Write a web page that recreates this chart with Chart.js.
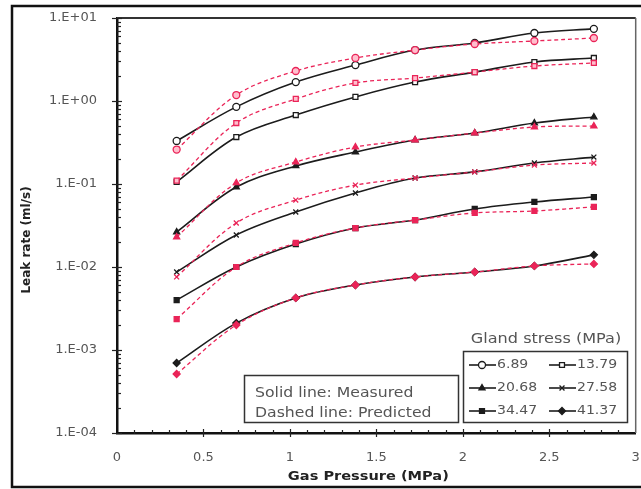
<!DOCTYPE html>
<html><head><meta charset="utf-8">
<script src="https://cdn.jsdelivr.net/npm/chart.js@4/dist/chart.umd.min.js"></script>
<style>html,body{margin:0;padding:0;background:#fff;overflow:hidden}canvas{display:block}</style>
</head><body><canvas id="c" width="641" height="489" style="width:641px;height:489px"></canvas>
<script>
// ---- data ----
const pressure = [0.345, 0.69, 1.034, 1.379, 1.724, 2.069, 2.414, 2.758];
const glandStress = ['6.89', '13.79', '20.68', '27.58', '34.47', '41.37'];
const meas689  = [0.33, 0.85, 1.69, 2.71, 4.11, 5.0, 6.6, 7.4];
const pred689  = [0.26, 1.18, 2.30, 3.30, 4.11, 4.86, 5.28, 5.74];
const meas1379 = [0.106, 0.368, 0.678, 1.12, 1.69, 2.23, 2.95, 3.30];
const pred1379 = [0.11, 0.543, 1.06, 1.65, 1.89, 2.23, 2.64, 2.87];
const meas2068 = [0.0264, 0.092, 0.165, 0.243, 0.339, 0.411, 0.543, 0.641];
const pred2068 = [0.023, 0.103, 0.184, 0.279, 0.339, 0.411, 0.486, 0.50];
const meas2758 = [0.0087, 0.0243, 0.046, 0.078, 0.118, 0.140, 0.179, 0.211];
const pred2758 = [0.0076, 0.0339, 0.064, 0.097, 0.118, 0.140, 0.169, 0.179];
const meas3447 = [0.0040, 0.010, 0.0189, 0.0295, 0.0368, 0.050, 0.0607, 0.0697];
const pred3447 = [0.00236, 0.010, 0.0195, 0.0295, 0.0368, 0.0448, 0.0473, 0.0529];
const meas4137 = [0.000697, 0.00211, 0.00424, 0.00607, 0.00758, 0.0087, 0.0103, 0.0140];
const pred4137 = [0.000514, 0.0020, 0.00424, 0.00607, 0.00758, 0.0087, 0.0103, 0.0109];
const measured  = [meas689, meas1379, meas2068, meas2758, meas3447, meas4137];
const predicted = [pred689, pred1379, pred2068, pred2758, pred3447, pred4137];
const yTickValues = [1e-4, 1e-3, 1e-2, 1e-1, 1, 10];
const yTickLabels = ['1.E-04', '1.E-03', '1.E-02', '1.E-01', '1.E+00', '1.E+01'];
const xTickValues = [0, 0.5, 1, 1.5, 2, 2.5, 3];
const xTickLabels = ['0', '0.5', '1', '1.5', '2', '2.5', '3'];
const xTitle = 'Gas Pressure (MPa)';
const yTitle = 'Leak rate (ml/s)';
const legendTitle = 'Gland stress (MPa)';
const noteLines = ['Solid line: Measured', 'Dashed line: Predicted'];

// ---- styles ----
const BLACK = '#1c1c1c';
const RED = 'rgb(234,36,88)';
const TEXT = '#555';
const shapes = ['circle', 'rect', 'triangle', 'crossRot', 'rect', 'rectRot'];
const measFill = ['#fff', '#fff', BLACK, BLACK, BLACK, BLACK];
const predFill = ['rgba(255,190,205,1)', 'rgba(255,190,205,1)', RED, RED, RED, RED];
const FONT = 'DejaVu Sans, Verdana, sans-serif';

const pts = arr => arr.map((v, i) => ({x: pressure[i], y: v}));
const datasets = [];
measured.forEach((arr, i) => datasets.push({
  label: glandStress[i], data: pts(arr), showLine: true, tension: 0.35, order: 1,
  borderColor: BLACK, borderWidth: 1.6,
  pointStyle: shapes[i], pointRadius: 3.5, pointBorderWidth: 1.3,
  pointBorderColor: BLACK, pointBackgroundColor: measFill[i]
}));
predicted.forEach((arr, i) => datasets.push({
  label: glandStress[i] + ' predicted', data: pts(arr), showLine: true, tension: 0.35, order: 0,
  borderColor: RED, borderWidth: 1.3, borderDash: [4, 3],
  pointStyle: shapes[i], pointRadius: 3.5, pointBorderWidth: 1.3,
  pointBorderColor: RED, pointBackgroundColor: predFill[i]
}));

// text drawn with a slight horizontal stretch (the reference font is wide)
function wideText(ctx, text, x, y, align, sx, rot) {
  ctx.save();
  ctx.translate(x, y);
  if (rot) ctx.rotate(rot);
  ctx.scale(sx, 1);
  ctx.textAlign = align; ctx.textBaseline = 'middle';
  ctx.fillText(text, 0, 0);
  ctx.restore();
}

const decor = {
  id: 'decor',
  beforeDraw(chart) {
    const ctx = chart.ctx;
    ctx.save(); ctx.fillStyle = '#fff'; ctx.fillRect(0, 0, chart.width, chart.height); ctx.restore();
  },
  afterDraw(chart) {
    const {ctx, chartArea: a, scales: {x, y}} = chart;
    ctx.save();
    // top & right frame
    ctx.strokeStyle = '#333'; ctx.lineWidth = 2;
    ctx.beginPath(); ctx.moveTo(a.left, a.top); ctx.lineTo(a.right, a.top); ctx.stroke();
    ctx.strokeStyle = '#666'; ctx.lineWidth = 1.5;
    ctx.beginPath(); ctx.moveTo(a.right, a.top); ctx.lineTo(a.right, a.bottom); ctx.stroke();
    // y ticks
    ctx.strokeStyle = '#222'; ctx.lineWidth = 1.2;
    for (let e = -4; e <= 0; e++) {
      for (let k = 2; k <= 9; k++) {
        const py = Math.round(y.getPixelForValue(k * Math.pow(10, e))) + 0.5;
        ctx.beginPath(); ctx.moveTo(a.left, py); ctx.lineTo(a.left + 4, py); ctx.stroke();
      }
    }
    yTickValues.forEach(v => {
      const py = Math.round(y.getPixelForValue(v)) + 0.5;
      ctx.beginPath(); ctx.moveTo(a.left - 5, py); ctx.lineTo(a.left + 5, py); ctx.stroke();
    });
    // x ticks
    for (let i = 1; i < 30; i++) {
      const px = Math.round(x.getPixelForValue(i / 10)) + 0.5;
      const major = i % 5 === 0;
      ctx.beginPath(); ctx.moveTo(px, a.bottom - (major ? 4 : 3)); ctx.lineTo(px, a.bottom + (major ? 4 : 1)); ctx.stroke();
    }
    // axis titles
    ctx.fillStyle = '#222'; ctx.font = 'bold 12px ' + FONT;
    wideText(ctx, yTitle, 27, 240, 'center', 1.0, -Math.PI / 2);
    ctx.font = 'bold 13px ' + FONT;
    wideText(ctx, xTitle, (a.left + a.right) / 2 - 8, 477, 'center', 1.12, 0);
    // note box
    ctx.strokeStyle = '#333'; ctx.lineWidth = 1.5;
    ctx.strokeRect(244.5, 375.5, 214, 47);
    ctx.fillStyle = TEXT; ctx.font = '14px ' + FONT;
    wideText(ctx, noteLines[0], 255, 393, 'left', 1.12, 0);
    wideText(ctx, noteLines[1], 255, 413, 'left', 1.12, 0);
    // legend
    ctx.strokeRect(463.5, 351.5, 164, 71);
    wideText(ctx, legendTitle, 546, 339, 'center', 1.15, 0);
    ctx.font = '13px ' + FONT;
    const rows = [365, 388, 411];
    const cols = [469, 549];
    for (let i = 0; i < 6; i++) {
      const ds = chart.data.datasets[i];
      const cx = cols[i % 2], cy = rows[Math.floor(i / 2)];
      ctx.strokeStyle = BLACK; ctx.lineWidth = 1.6;
      ctx.beginPath(); ctx.moveTo(cx, cy); ctx.lineTo(cx + 27, cy); ctx.stroke();
      ctx.fillStyle = ds.pointBackgroundColor; ctx.strokeStyle = ds.pointBorderColor; ctx.lineWidth = 1.3;
      Chart.helpers.drawPoint(ctx, {pointStyle: ds.pointStyle, radius: 3.5, borderWidth: 1.3, rotation: 0}, cx + 13, cy);
      ctx.fillStyle = TEXT;
      wideText(ctx, ds.label, cx + 28, cy, 'left', 1.08, 0);
    }
    // outer figure border
    ctx.strokeStyle = '#111'; ctx.lineWidth = 2.5;
    ctx.beginPath();
    ctx.moveTo(650, 6); ctx.lineTo(12, 6); ctx.lineTo(12, 487); ctx.lineTo(650, 487);
    ctx.stroke();
    ctx.restore();
  }
};

new Chart(document.getElementById('c'), {
  type: 'scatter',
  data: {datasets},
  options: {
    responsive: false, animation: false, devicePixelRatio: 1,
    layout: {padding: {left: 12, top: 18, right: 5, bottom: 0}},
    plugins: {legend: {display: false}, tooltip: {enabled: false}},
    scales: {
      x: {
        type: 'linear', min: 0, max: 3,
        afterFit(s) { s.height = 56; s.paddingLeft = 0; s.paddingRight = 0; },
        afterBuildTicks(s) { s.ticks = xTickValues.map(v => ({value: v})); },
        ticks: {
          padding: 17, color: TEXT, font: {family: FONT, size: 13}, maxRotation: 0, autoSkip: false,
          callback: (v) => { const i = xTickValues.findIndex(t => Math.abs(t - v) < 1e-9); return i >= 0 ? xTickLabels[i] : ''; }
        },
        grid: {display: false, drawTicks: false},
        border: {display: true, color: '#111', width: 2.5},
        title: {display: false, text: xTitle}
      },
      y: {
        type: 'logarithmic', min: 1e-4, max: 10,
        afterFit(s) { s.width = 105; s.paddingTop = 0; s.paddingBottom = 0; },
        afterBuildTicks(s) { s.ticks = yTickValues.map(v => ({value: v})); },
        ticks: {
          padding: 20, color: TEXT, font: {family: FONT, size: 13}, autoSkip: false,
          callback: (v) => { const i = yTickValues.findIndex(t => Math.abs(Math.log10(t) - Math.log10(v)) < 1e-6); return i >= 0 ? yTickLabels[i] : ''; }
        },
        grid: {display: false, drawTicks: false},
        border: {display: true, color: '#111', width: 2.5},
        title: {display: false, text: yTitle}
      }
    }
  },
  plugins: [decor]
});
</script></body></html>
